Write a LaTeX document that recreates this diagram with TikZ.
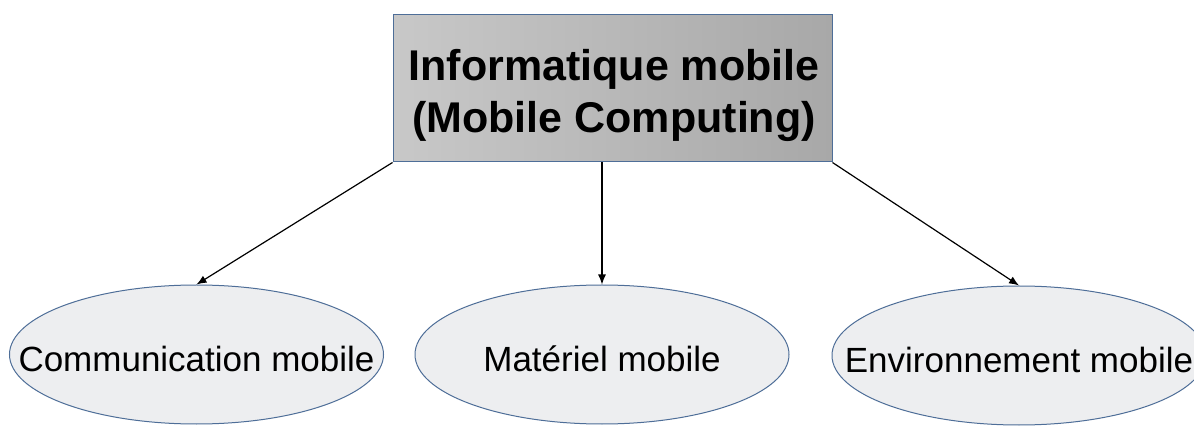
\documentclass[tikz,border=0pt]{standalone}
\usepackage{fontspec}
\setmainfont{Liberation Sans}
\usetikzlibrary{arrows.meta,shapes.geometric}
\definecolor{edgeblue}{HTML}{4E6E98}
\definecolor{boxlight}{HTML}{C8C8C8}
\definecolor{boxdark}{HTML}{A8A8A8}
\definecolor{ovalfill}{HTML}{EDEEF0}
\tikzset{
  headbox/.style={draw=edgeblue, line width=1pt, left color=boxlight, right color=boxdark,
    minimum width=439pt, minimum height=147pt, inner sep=0pt},
  headtext/.style={align=center, font=\fontsize{43}{52}\selectfont\bfseries, inner sep=0pt},
  oval/.style={ellipse, draw=edgeblue, line width=1pt, fill=ovalfill,
    minimum width=374pt, minimum height=139pt, inner xsep=-100pt, inner ysep=0pt,
    font=\fontsize{35}{42}\selectfont, text height=35pt, text depth=0pt},
  link/.style={line width=1.2pt, -{Latex[length=10pt,width=8pt]}}
}
\begin{document}
\begin{tikzpicture}[x=1pt,y=-1pt]
  \clip (0,0) rectangle (1194,427);
  \fill[white] (0,0) rectangle (1194,427);
  % heading box
  \node[headbox] (head) at (612.5,88.5) {};
  \node[headtext] (headlabel) at (614,95.5) {Informatique mobile\\(Mobile Computing)};
  % three domains
  \node[oval] (comm) at (196.5,354.5) {Communication mobile};
  \node[oval] (mat) at (602,354.5) {Matériel mobile};
  \node[oval] (env) at (1019,355.5) {Environnement mobile};
  % connectors
  \draw[link] (head.south west) -- (comm.north);
  \draw[link] (head.south -| mat.north) -- (mat.north);
  \draw[link] (head.south east) -- (env.north);
\end{tikzpicture}
\end{document}
